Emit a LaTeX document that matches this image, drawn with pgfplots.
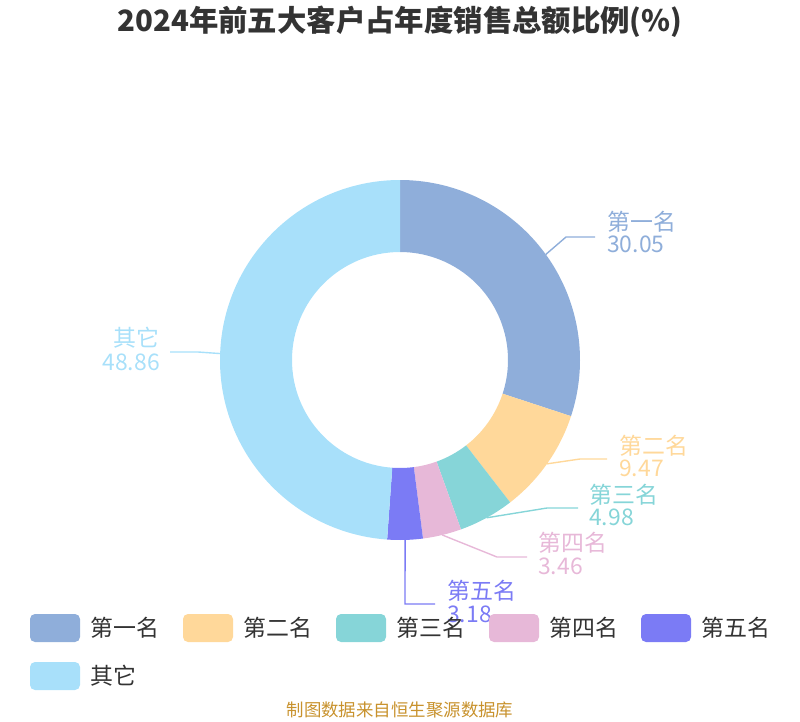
\documentclass[border=0pt]{standalone}
\usepackage{fontspec}
\setmainfont{Noto Sans CJK SC}
\usepackage{pgfplots}
\usepackage{pgfplotstable}
\pgfplotsset{compat=1.18}
\usetikzlibrary{calc}

\definecolor{cA}{HTML}{8FAEDA}
\definecolor{cB}{HTML}{FFD89A}
\definecolor{cC}{HTML}{86D5D8}
\definecolor{cD}{HTML}{E7B8D8}
\definecolor{cE}{HTML}{7B7BF5}
\definecolor{cF}{HTML}{A8E0FA}
\definecolor{txt}{HTML}{333333}
\definecolor{src}{HTML}{C8922D}

% share of annual sales, %
\pgfplotstableread{
name value
第一名 30.05
第二名 9.47
第三名 4.98
第四名 3.46
第五名 3.18
其它 48.86
}\share

\newcommand\getv[2]{\pgfplotstablegetelem{#1}{value}\of\share\global\let#2\pgfplotsretval}
% ring segment: colour, start angle, end angle
\newcommand\seg[3]{\fill[#1] ($(axis cs:400,360)+(#2:180bp)$) arc[start angle=#2,end angle=#3,radius=180bp]
  -- ($(axis cs:400,360)+(#3:108bp)$) arc[start angle=#3,end angle=#2,radius=108bp] -- cycle;}
% leader: colour, mid angle, elbow x,y, end x
\newcommand\lead[5]{\draw[#1,line width=1.4bp] ($(axis cs:400,360)+(#2:180bp)$) -- (axis cs:#3,#4) -- (axis cs:#5,#4);}
\newcommand\lab[5]{%
  \node[#1,anchor=base #5,inner sep=0,font=\fontsize{23}{23}\selectfont] at (axis cs:#2,#3) {#4};}

\begin{document}
\begin{tikzpicture}
\getv{0}\vA \getv{1}\vB \getv{2}\vC \getv{3}\vD \getv{4}\vE \getv{5}\vF
\pgfmathsetmacro\aA{90}
\pgfmathsetmacro\aB{\aA-3.6*\vA}
\pgfmathsetmacro\aC{\aB-3.6*\vB}
\pgfmathsetmacro\aD{\aC-3.6*\vC}
\pgfmathsetmacro\aE{\aD-3.6*\vD}
\pgfmathsetmacro\aF{\aE-3.6*\vE}
\pgfmathsetmacro\aG{\aF-3.6*\vF}
\pgfmathsetmacro\mA{(\aA+\aB)/2}
\pgfmathsetmacro\mB{(\aB+\aC)/2}
\pgfmathsetmacro\mC{(\aC+\aD)/2}
\pgfmathsetmacro\mD{(\aD+\aE)/2}
\pgfmathsetmacro\mE{(\aE+\aF)/2}
\pgfmathsetmacro\mF{(\aF+\aG)/2}
\begin{axis}[
  width=800bp, height=720bp, scale only axis,
  xmin=0, xmax=800, ymin=0, ymax=720, y dir=reverse,
  hide axis, clip=false,
]
\path (axis cs:0,0) rectangle (axis cs:800,720);

\node[txt,font=\fontsize{29.5}{29.5}\selectfont\bfseries] at (axis cs:400,22) {2024年前五大客户占年度销售总额比例(\%)};

\seg{cA}{\aA}{\aB}
\seg{cB}{\aB}{\aC}
\seg{cC}{\aC}{\aD}
\seg{cD}{\aD}{\aE}
\seg{cE}{\aE}{\aF}
\seg{cF}{\aF}{\aG}

\lead{cA}{\mA}{566}{237}{595}
\lead{cB}{\mB}{580}{459}{607}
\lead{cC}{\mC}{547}{508}{578}
\lead{cD}{\mD}{497}{557}{527}
\lead{cE}{\mE}{405}{604}{435}
\lead{cF}{\mF}{198}{352}{170}

\lab{cA}{607}{230}{第一名}{west} \lab{cA}{607}{252}{\vA}{west}
\lab{cB}{619}{454}{第二名}{west} \lab{cB}{619}{476}{\vB}{west}
\lab{cC}{589}{503}{第三名}{west} \lab{cC}{589}{525}{\vC}{west}
\lab{cD}{538}{551}{第四名}{west} \lab{cD}{538}{574}{\vD}{west}
\lab{cE}{447}{599}{第五名}{west} \lab{cE}{447}{622}{\vE}{west}
\lab{cF}{160}{346}{其它}{east} \lab{cF}{160}{370}{\vF}{east}

% legend
\fill[cA,rounded corners=5bp] (axis cs:30,614) rectangle (axis cs:80,642);
\fill[cB,rounded corners=5bp] (axis cs:183,614) rectangle (axis cs:233,642);
\fill[cC,rounded corners=5bp] (axis cs:336,614) rectangle (axis cs:386,642);
\fill[cD,rounded corners=5bp] (axis cs:489,614) rectangle (axis cs:539,642);
\fill[cE,rounded corners=5bp] (axis cs:641,614) rectangle (axis cs:691,642);
\fill[cF,rounded corners=5bp] (axis cs:30,662) rectangle (axis cs:80,690);
\lab{txt}{90}{636}{第一名}{west}
\lab{txt}{243}{636}{第二名}{west}
\lab{txt}{396}{636}{第三名}{west}
\lab{txt}{549}{636}{第四名}{west}
\lab{txt}{701}{636}{第五名}{west}
\lab{txt}{90}{684}{其它}{west}

\node[src,font=\fontsize{17.5}{17.5}\selectfont] at (axis cs:400,710) {制图数据来自恒生聚源数据库};
\end{axis}
\end{tikzpicture}
\end{document}
